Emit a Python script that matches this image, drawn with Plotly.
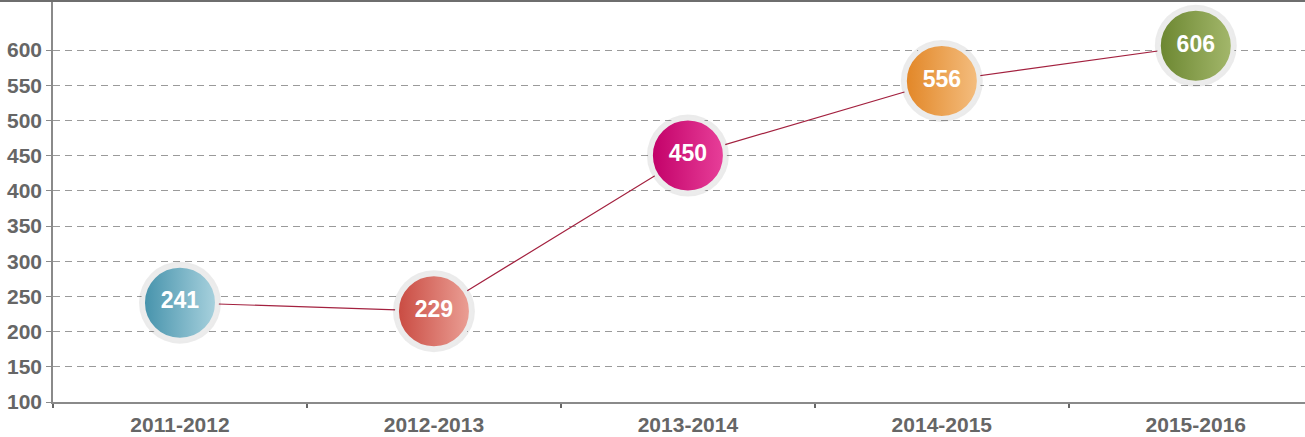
import plotly.graph_objects as go

categories = ["2011-2012", "2012-2013", "2013-2014", "2014-2015", "2015-2016"]
values = [241, 229, 450, 556, 606]
marker_colors = ["#4592ab", "#c94a41", "#c20068", "#e28626", "#6b8630"]
marker_light = ["#a9d2de", "#eba096", "#e8409a", "#f4be80", "#a4b86c"]
y_ticks = list(range(100, 601, 50))

x_pos = list(range(len(categories)))
font_family = "Liberation Sans, Arial, sans-serif"

fig = go.Figure()

# connecting line
fig.add_trace(go.Scatter(
    x=x_pos, y=values, mode="lines",
    line=dict(color="#a3213f", width=1.2),
    hoverinfo="skip", showlegend=False,
))

# sticker shadows
fig.add_trace(go.Scatter(
    x=x_pos, y=values, mode="markers",
    marker=dict(size=82, color="rgba(0,0,0,0.08)", line=dict(width=0)),
    hoverinfo="skip", showlegend=False, cliponaxis=False,
))

for i, (c, v) in enumerate(zip(categories, values)):
    fig.add_trace(go.Scatter(
        x=[x_pos[i]], y=[v], mode="markers+text",
        text=[str(v)], textposition="middle center",
        textfont=dict(color="white", size=23, family=font_family, weight="bold"),
        marker=dict(size=74, color=marker_colors[i],
                    gradient=dict(type="horizontal", color=marker_light[i]),
                    line=dict(width=4, color="#ececec")),
        hoverinfo="skip", showlegend=False, cliponaxis=False,
    ))

fig.update_layout(
    width=1305, height=437,
    margin=dict(l=53, r=0, t=1, b=35),
    plot_bgcolor="white", paper_bgcolor="white",
    xaxis=dict(
        range=[-0.5, 4.43], automargin=False,
        tickmode="array", tickvals=x_pos, ticktext=categories,
        ticks="", showgrid=False, zeroline=False,
        showline=True, linecolor="#8a8a8a", linewidth=1.5,
        tickfont=dict(size=21, color="#666666", family=font_family, weight="bold"),
        ticklabelstandoff=3,
        minor=dict(tick0=0.5, dtick=1, ticks="outside", ticklen=4,
                   tickcolor="#666666", tickwidth=2, showgrid=False),
    ),
    yaxis=dict(
        range=[100, 669.6], automargin=False,
        tickmode="array", tickvals=y_ticks,
        showgrid=True, gridcolor="#9a9a9a", gridwidth=1, griddash="7px,5px",
        zeroline=False, showline=True, linecolor="#8a8a8a", linewidth=1.5,
        ticks="outside", ticklen=5, tickcolor="#8a8a8a",
        tickfont=dict(size=21, color="#666666", family=font_family, weight="bold"),
    ),
    shapes=[dict(type="line", xref="paper", yref="paper", x0=-0.05, x1=1, y0=1, y1=1,
                 line=dict(color="#6e6e6e", width=2))],
    hovermode=False,
)

fig.write_html("out.html", config={"displayModeBar": False},
               post_script="document.body.style.margin='0px';document.body.style.overflow='hidden';")
